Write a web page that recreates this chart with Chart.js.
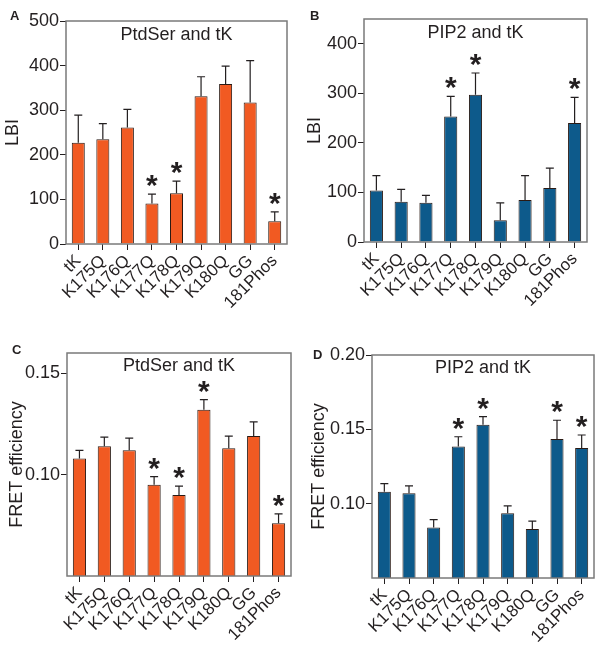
<!DOCTYPE html>
<html>
<head>
<meta charset="utf-8">
<script src="https://cdn.jsdelivr.net/npm/chart.js@4.4.0/dist/chart.umd.min.js"></script>
<style>
body{margin:0;background:#fff;width:604px;height:648px;position:relative;overflow:hidden;font-family:"Liberation Sans",Arial,sans-serif}
canvas{position:absolute}
.lab{position:absolute;font-weight:bold;font-size:13px;color:#231f20;line-height:1}
</style>
</head>
<body>
<canvas id="chartA" width="300" height="330" style="left:0;top:0"></canvas>
<canvas id="chartB" width="304" height="330" style="left:300px;top:0"></canvas>
<canvas id="chartC" width="300" height="318" style="left:0;top:330px"></canvas>
<canvas id="chartD" width="304" height="318" style="left:300px;top:330px"></canvas>
<div class="lab" style="left:10px;top:9px">A</div>
<div class="lab" style="left:310px;top:9px">B</div>
<div class="lab" style="left:12px;top:343px">C</div>
<div class="lab" style="left:313px;top:348px">D</div>
<script>
var categories = ["tK", "K175Q", "K176Q", "K177Q", "K178Q", "K179Q", "K180Q", "GG", "181Phos"];

// LBI, PtdSer and tK
var lbiPtdSer = [227, 235, 261, 91, 114, 331, 359, 317, 51];
var lbiPtdSerErr = [62, 35, 41, 21, 27, 44, 40, 94, 21];
var starsA = [0, 0, 0, 1, 1, 0, 0, 0, 1];
var ticksA = [0, 100, 200, 300, 400, 500];

// LBI, PIP2 and tK
var lbiPip2 = [104, 81, 79, 253, 297, 44, 85, 109, 240];
var lbiPip2Err = [30, 25, 15, 41, 44, 35, 49, 40, 52];
var starsB = [0, 0, 0, 1, 1, 0, 0, 0, 1];
var ticksB = [0, 100, 200, 300, 400];

// FRET, PtdSer and tK
var fretPtdSer = [0.108, 0.114, 0.112, 0.095, 0.090, 0.132, 0.113, 0.119, 0.076];
var fretPtdSerErr = [0.004, 0.0045, 0.006, 0.004, 0.0043, 0.005, 0.006, 0.007, 0.0046];
var starsC = [0, 0, 0, 1, 1, 1, 0, 0, 1];
var ticksC = [0.10, 0.15];

// FRET, PIP2 and tK
var fretPip2 = [0.108, 0.107, 0.084, 0.1385, 0.153, 0.0935, 0.083, 0.1435, 0.1375];
var fretPip2Err = [0.0055, 0.005, 0.0052, 0.0065, 0.0056, 0.005, 0.0052, 0.0126, 0.0087];
var starsD = [0, 0, 0, 1, 1, 0, 0, 1, 1];
var ticksD = [0.10, 0.15, 0.20];

var orange = '#f15a22';
var blue = '#0d5a8b';
var ink = '#231f20';
var font = '"Liberation Sans", Arial, sans-serif';

// error bars, stars, inner title and grey frame
var extras = {
  id: 'extras',
  afterDatasetsDraw: function (chart, args, opts) {
    var c = chart.ctx, a = chart.chartArea;
    var ys = chart.scales.y;
    var meta = chart.getDatasetMeta(0);
    var vals = chart.data.datasets[0].data;
    c.save();
    c.strokeStyle = ink;
    c.lineWidth = 1.2;
    meta.data.forEach(function (bar, i) {
      var top = ys.getPixelForValue(vals[i] + opts.err[i]);
      c.beginPath();
      c.moveTo(bar.x, bar.y);
      c.lineTo(bar.x, top);
      c.moveTo(bar.x - 4, top);
      c.lineTo(bar.x + 4, top);
      c.stroke();
      if (opts.stars[i]) {
        c.fillStyle = ink;
        c.font = 'bold 30px ' + font;
        c.textAlign = 'center';
        c.textBaseline = 'alphabetic';
        var m = c.measureText('*');
        c.fillText('*', bar.x, top - 7 - m.actualBoundingBoxDescent);
      }
    });
    c.fillStyle = ink;
    c.font = '18px ' + font;
    c.textAlign = 'center';
    c.textBaseline = 'alphabetic';
    c.fillText(opts.title, (a.left + a.right) / 2, a.top + opts.titleY);
    c.strokeStyle = '#7a7a7a';
    c.lineWidth = 1.5;
    c.strokeRect(a.left, a.top, a.right - a.left, a.bottom - a.top);
    c.restore();
  }
};

function makeChart(id, values, errs, stars, color, title, yTitle, yMin, yMax, ticks, digits, box, titlePad, titleY) {
  return new Chart(document.getElementById(id), {
    type: 'bar',
    data: {
      labels: categories,
      datasets: [{
        data: values,
        backgroundColor: color,
        borderColor: '#2a1a14',
        borderWidth: 1,
        barPercentage: 0.53,
        categoryPercentage: 1
      }]
    },
    options: {
      responsive: false,
      animation: false,
      layout: { padding: { left: 0, top: box[1], right: box[4] - box[2], bottom: 0 } },
      plugins: {
        legend: { display: false },
        tooltip: { enabled: false },
        extras: { err: errs, stars: stars, title: title, titleY: titleY }
      },
      scales: {
        x: {
          afterFit: function (s) { s.height = box[5] - box[3]; },
          border: { display: false },
          grid: { drawOnChartArea: false, color: ink, tickLength: 6, offset: false },
          ticks: { color: ink, font: { family: font, size: 17 }, autoSkip: false, maxRotation: 45, minRotation: 45, padding: 1 }
        },
        y: {
          min: yMin,
          max: yMax,
          afterFit: function (s) { s.width = box[0]; },
          afterBuildTicks: function (s) { s.ticks = ticks.map(function (v) { return { value: v }; }); },
          border: { display: false },
          grid: { drawOnChartArea: false, color: ink, tickLength: 6 },
          ticks: {
            color: ink, padding: 1,
            font: { family: font, size: 18 },
            callback: function (v) { return Number(v).toFixed(digits); }
          },
          title: { display: true, text: yTitle, color: ink, font: { family: font, size: 18 }, padding: { top: titlePad, bottom: 0 } }
        }
      }
    },
    plugins: [extras]
  });
}

// box: [left, top, right, bottom, canvasW, canvasH]
makeChart('chartA', lbiPtdSer, lbiPtdSerErr, starsA, orange, 'PtdSer and tK', 'LBI', 0, 500, ticksA, 0, [66, 21, 287, 244, 300, 330], 2, 19);
makeChart('chartB', lbiPip2, lbiPip2Err, starsB, blue, 'PIP2 and tK', 'LBI', 0, 450, ticksB, 0, [64, 19, 287, 242, 304, 330], 4, 19);
makeChart('chartC', fretPtdSer, fretPtdSerErr, starsC, orange, 'PtdSer and tK', 'FRET efficiency', 0.05, 0.16, ticksC, 2, [67, 23, 291, 246, 300, 318], 6, 18);
makeChart('chartD', fretPip2, fretPip2Err, starsD, blue, 'PIP2 and tK', 'FRET efficiency', 0.05, 0.20, ticksD, 2, [72, 25, 294, 248, 304, 318], 8, 18);
</script>
</body>
</html>
